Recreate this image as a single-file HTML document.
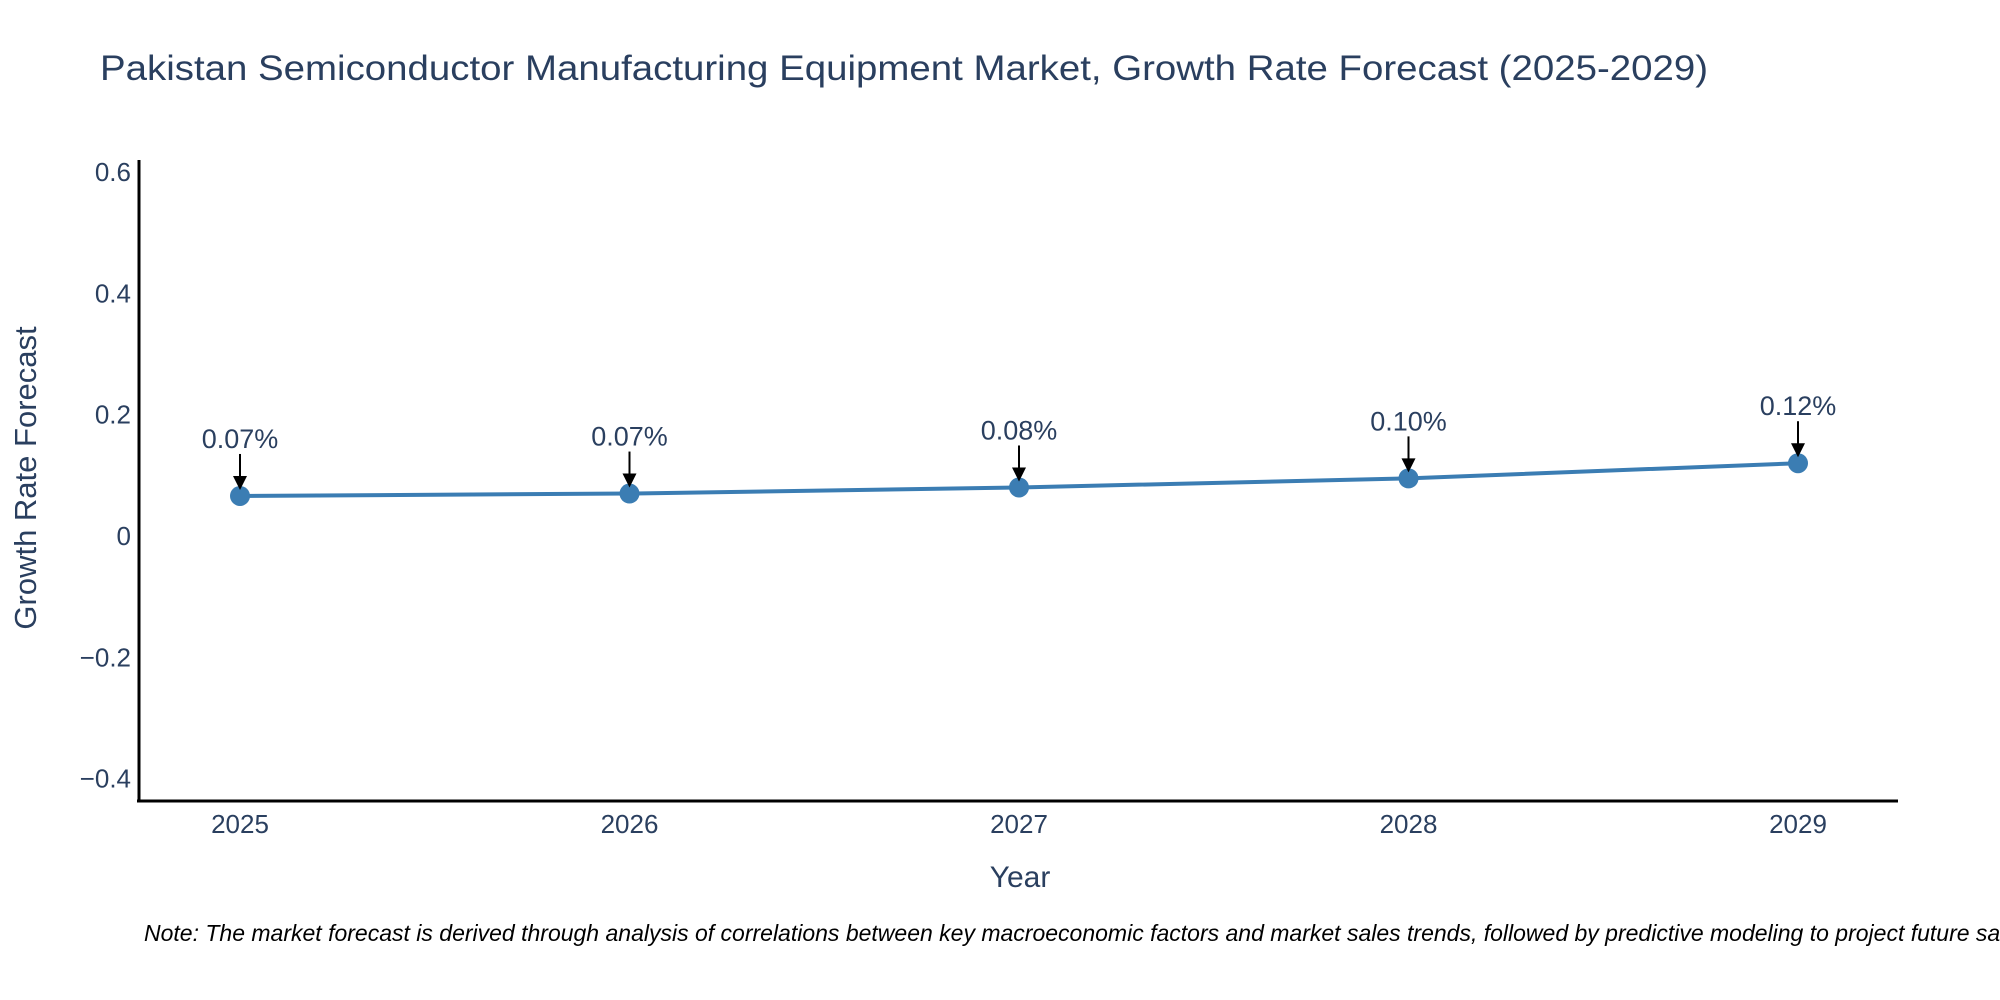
<!DOCTYPE html>
<html><head><meta charset="utf-8"><style>
html,body{margin:0;padding:0;background:#fff;overflow:hidden;}
svg{display:block;font-family:"Liberation Sans",sans-serif;}
</style></head><body>
<svg id="chart" width="2000" height="1000" viewBox="0 0 2000 1000" xmlns="http://www.w3.org/2000/svg">
<text x="100" y="80" font-size="35" fill="#2a3f5f" textLength="1608" lengthAdjust="spacingAndGlyphs">Pakistan Semiconductor Manufacturing Equipment Market, Growth Rate Forecast (2025-2029)</text>
<g id="yticks"></g>
<g id="xticks"></g>
<line x1="139" y1="160" x2="139" y2="802" stroke="#000" stroke-width="3"/>
<line x1="137" y1="801" x2="1898" y2="801" stroke="#000" stroke-width="3"/>
<text transform="translate(36,478) rotate(-90)" text-anchor="middle" font-size="31" fill="#2a3f5f">Growth Rate Forecast</text>
<text x="1020" y="887" text-anchor="middle" font-size="30" fill="#2a3f5f">Year</text>
<g id="series"></g>
<g id="annots"></g>
<text x="144" y="941" font-size="23" font-style="italic" fill="#000">Note: The market forecast is derived through analysis of correlations between key macroeconomic factors and market sales trends, followed by predictive modeling to project future sales.</text>
</svg>
<script>
const years = [2025, 2026, 2027, 2028, 2029];
const growth = [0.066, 0.07, 0.08, 0.095, 0.12];
const labels = ["0.07%", "0.07%", "0.08%", "0.10%", "0.12%"];
const yTickVals = [-0.4, -0.2, 0, 0.2, 0.4, 0.6];
const yTickLabels = ["\u22120.4", "\u22120.2", "0", "0.2", "0.4", "0.6"];

const NS = "http://www.w3.org/2000/svg";
function xScale(v){ return 240 + (v - 2025) * 389.5; }
function yScale(v){ return 536 - v * 606.5; }
function mk(tag, attrs, parent){
  const e = document.createElementNS(NS, tag);
  for (const k in attrs) e.setAttribute(k, attrs[k]);
  parent.appendChild(e);
  return e;
}
const yt = document.getElementById('yticks');
yTickVals.forEach((v,i)=>{
  const t = mk('text', {x:131, y:yScale(v)+9, 'text-anchor':'end', 'font-size':26, fill:'#2a3f5f'}, yt);
  
  
  t.textContent = yTickLabels[i];
});
const xt = document.getElementById('xticks');
years.forEach(y=>{
  const t = mk('text', {x:xScale(y), y:833, 'text-anchor':'middle', 'font-size':26, fill:'#2a3f5f'}, xt);
  
  
  t.textContent = String(y);
});
const s = document.getElementById('series');
const pts = years.map((y,i)=>xScale(y)+','+yScale(growth[i])).join(' ');
const line = mk('polyline', {points:pts, fill:'none', stroke:'#3b7db3', 'stroke-width':4}, s);


years.forEach((y,i)=>{
  const c = mk('circle', {cx:xScale(y), cy:yScale(growth[i]), r:10, fill:'#3b7db3'}, s);
  
  
});
const a = document.getElementById('annots');
years.forEach((y,i)=>{
  const x = xScale(y), py = yScale(growth[i]);
  const t = mk('text', {x:x, y:py-48, 'text-anchor':'middle', 'font-size':27, fill:'#2a3f5f'}, a);
  
  
  t.textContent = labels[i];
  const l = mk('line', {x1:x, y1:py-42, x2:x, y2:py-16, stroke:'#000', 'stroke-width':2}, a);
  
  
  const h = mk('polygon', {points:(x-7)+','+(py-20)+' '+(x+7)+','+(py-20)+' '+x+','+(py-6), fill:'#000'}, a);
  
  
});
</script>
</body></html>
